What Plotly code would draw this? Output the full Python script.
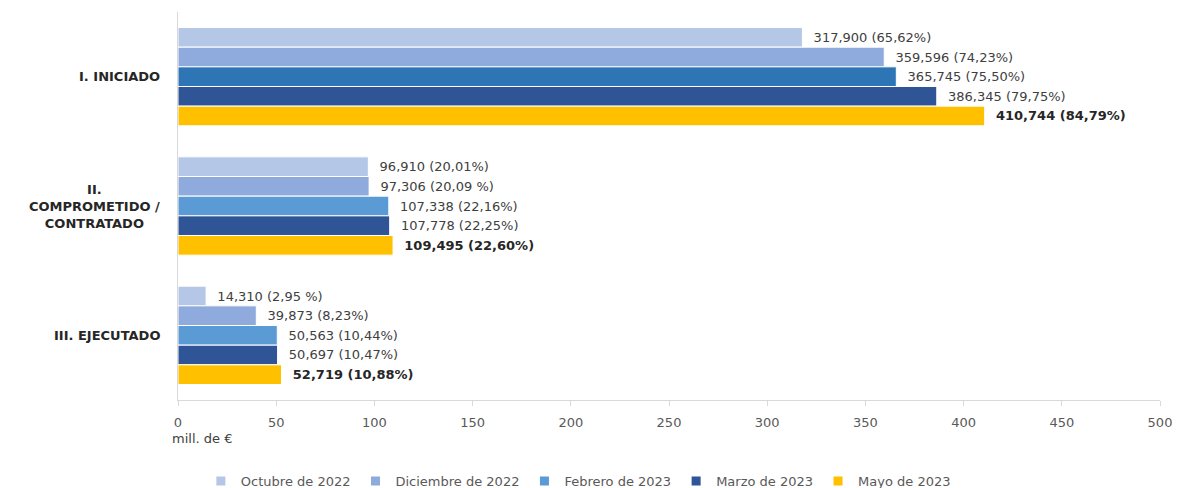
import plotly.graph_objects as go

categories = ["I. INICIADO", "II. COMPROMETIDO / CONTRATADO", "III. EJECUTADO"]
cat_labels = ["I. INICIADO", "II.<br>COMPROMETIDO /<br>CONTRATADO", "III. EJECUTADO"]
series_names = ["Octubre de 2022", "Diciembre de 2022", "Febrero de 2023", "Marzo de 2023", "Mayo de 2023"]

oct_2022 = [317.900, 96.910, 14.310]
dic_2022 = [359.596, 97.306, 39.873]
feb_2023 = [365.745, 107.338, 50.563]
mar_2023 = [386.345, 107.778, 50.697]
may_2023 = [410.744, 109.495, 52.719]

pct_oct = ["65,62%", "20,01%", "2,95 %"]
pct_dic = ["74,23%", "20,09 %", "8,23%"]
pct_feb = ["75,50%", "22,16%", "10,44%"]
pct_mar = ["79,75%", "22,25%", "10,47%"]
pct_may = ["84,79%", "22,60%", "10,88%"]

values = [oct_2022, dic_2022, feb_2023, mar_2023, may_2023]
pcts = [pct_oct, pct_dic, pct_feb, pct_mar, pct_may]
colors = [
    ["#B4C7E7"] * 3,
    ["#8FAADC"] * 3,
    ["#2E75B6", "#5B9BD5", "#5B9BD5"],
    ["#2F5597"] * 3,
    ["#FFC000"] * 3,
]
legend_colors = ["#B4C7E7", "#8FAADC", "#5B9BD5", "#2F5597", "#FFC000"]

FONT = "DejaVu Sans"

fig = go.Figure()
for i, (name, vals, pc) in enumerate(zip(series_names, values, pcts)):
    labels = []
    for v, p in zip(vals, pc):
        s = f"{v:.3f}".replace(".", ",") + f" ({p})"
        if i == 4:
            s = f"<b>{s}</b>"
        labels.append("  " + s)
    fig.add_trace(go.Bar(
        name=name,
        y=categories,
        x=vals,
        orientation="h",
        marker=dict(color=colors[i], line=dict(color="white", width=1)),
        text=labels,
        textposition="outside",
        constraintext="none",
        cliponaxis=False,
        textfont=dict(family=FONT, size=13, color="#262626" if i == 4 else "#404040"),
        showlegend=False,
    ))

for i, name in enumerate(series_names):
    fig.add_trace(go.Scatter(
        name=name, x=[None], y=[None], mode="markers",
        marker=dict(symbol="square", size=9, color=legend_colors[i]),
        showlegend=True,
    ))

for cat, lab in zip(categories, cat_labels):
    fig.add_annotation(
        x=0, xref="paper", xanchor="right", xshift=-16,
        y=cat, yref="y", yanchor="middle",
        text=f"<b>{lab}</b>", showarrow=False, align="center",
        font=dict(family=FONT, size=13, color="#262626"),
    )

fig.add_annotation(
    x=0, xref="paper", xanchor="left", xshift=-8,
    y=0, yref="paper", yanchor="top", yshift=-29,
    text="mill. de €", showarrow=False,
    font=dict(family=FONT, size=13, color="#404040"),
)

fig.update_layout(
    width=1164, height=488,
    margin=dict(l=170, r=12, t=4, b=96),
    barmode="group", bargap=0.24, bargroupgap=0,
    plot_bgcolor="white", paper_bgcolor="white",
    font=dict(family=FONT, size=13, color="#595959"),
    legend=dict(
        orientation="h", xref="container", yref="container",
        x=0.49, xanchor="center", y=0.0, yanchor="bottom",
        font=dict(family=FONT, size=13, color="#595959"),
        itemwidth=30, traceorder="normal",
    ),
    xaxis=dict(
        range=[0, 500], dtick=50, showgrid=False, zeroline=False,
        showline=True, linecolor="#D9D9D9", linewidth=1,
        ticks="outside", ticklen=5, tickcolor="#D9D9D9",
        tickfont=dict(family=FONT, size=13, color="#595959"),
        ticklabeloverflow="allow", ticklabelstandoff=5,
        automargin=False,
    ),
    yaxis=dict(
        categoryorder="array", categoryarray=categories,
        autorange="reversed", showticklabels=False,
        showgrid=False, zeroline=False,
        showline=True, linecolor="#D9D9D9", linewidth=1, ticks="",
        automargin=False,
    ),
)

fig.write_html("out.html")
